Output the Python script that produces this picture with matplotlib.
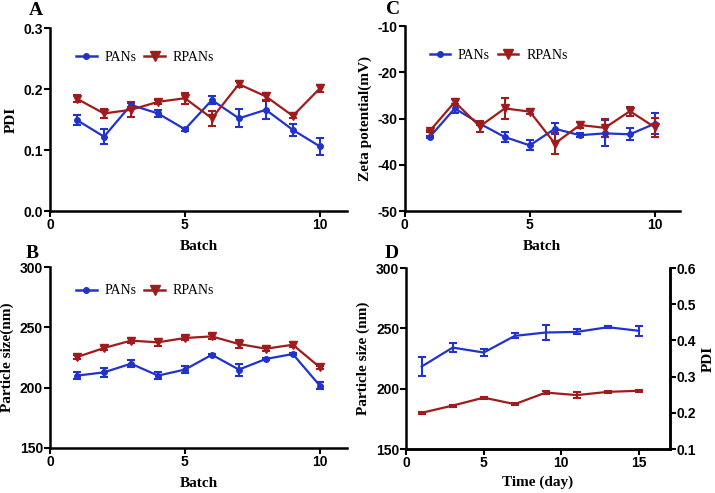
import matplotlib
matplotlib.use("Agg")
import matplotlib.pyplot as plt
from matplotlib.lines import Line2D

plt.rcParams["axes.unicode_minus"] = False

batch = [1, 2, 3, 4, 5, 6, 7, 8, 9, 10]

# Panel A: PDI
pdi_pan = [0.149, 0.122, 0.174, 0.160, 0.134, 0.182, 0.152, 0.166, 0.133, 0.106]
pdi_pan_err = [0.008, 0.012, 0.003, 0.005, 0.002, 0.006, 0.015, 0.015, 0.010, 0.014]
pdi_rpan = [0.184, 0.160, 0.166, 0.179, 0.185, 0.152, 0.208, 0.188, 0.156, 0.201]
pdi_rpan_err = [0.006, 0.008, 0.012, 0.003, 0.009, 0.012, 0.005, 0.006, 0.004, 0.005]

# Panel B: particle size
size_pan = [210.0, 212.7, 219.9, 210.0, 215.0, 227.3, 215.0, 223.8, 227.9, 201.7]
size_pan_err = [3, 4, 3, 3, 3, 1, 5, 1, 1, 3]
size_rpan = [225.4, 232.9, 239.0, 237.6, 241.2, 242.5, 236.2, 232.3, 235.6, 216.9]
size_rpan_err = [2, 2, 2, 3, 2, 2, 3, 2, 2, 1]

# Panel C: zeta potential
zeta_pan = [-34.0, -27.8, -31.1, -34.0, -35.8, -32.2, -33.6, -33.2, -33.4, -31.1]
zeta_pan_err = [0.3, 1.0, 0.4, 1.0, 1.1, 1.2, 0.4, 2.8, 1.3, 2.2]
zeta_rpan = [-32.7, -26.4, -31.7, -27.8, -28.5, -35.4, -31.4, -32.0, -28.4, -31.9]
zeta_rpan_err = [0.3, 0.6, 1.2, 2.3, 0.5, 2.2, 0.6, 2.0, 1.0, 2.0]

# Panel D: stability over time
days = [1, 3, 5, 7, 9, 11, 13, 15]
d_size = [218.4, 234.1, 230.0, 243.8, 246.6, 247.1, 251.0, 248.0]
d_size_err = [8, 4, 3, 2, 6, 2, 1, 4]
d_pdi = [0.200, 0.220, 0.242, 0.224, 0.256, 0.249, 0.258, 0.261]
d_pdi_err = [0.003, 0.003, 0.003, 0.003, 0.004, 0.008, 0.003, 0.003]

BLUE = "#2233cc"
RED = "#a01c1c"
TICKFONT = "Liberation Sans"
SERIF = "Liberation Serif"

fig = plt.figure(figsize=(7.15, 4.93), dpi=100)


def style(ax, right=False):
    ax.spines["top"].set_visible(False)
    if not right:
        ax.spines["right"].set_visible(False)
    for s in ax.spines.values():
        s.set_linewidth(1.8)
    ax.tick_params(direction="out", width=1.5, length=4, labelsize=10, pad=1)
    for lab in ax.get_xticklabels() + ax.get_yticklabels():
        lab.set_fontfamily(TICKFONT)
        lab.set_fontweight("bold")
    ax.patch.set_alpha(0)


def series(ax, x, y, e, color, marker, ms):
    ax.errorbar(x, y, yerr=e, color=color, marker=marker, ms=ms, lw=1.6,
                elinewidth=1.5, capsize=3, capthick=1.5)


def legend(ax, ytop):
    handles = [Line2D([], [], color=BLUE, marker="o", ms=4, lw=1.8),
               Line2D([], [], color=RED, marker="v", ms=7, lw=1.8)]
    ax.legend(handles, ["PANs", "RPANs"], loc="upper left",
              bbox_to_anchor=(0.07, ytop), ncol=2, frameon=False,
              prop={"family": SERIF, "size": 10}, handlelength=1.45,
              columnspacing=0.55, handletextpad=0.6, borderaxespad=0)


# Panel A
axA = fig.add_axes([0.070, 0.572, 0.415, 0.371])
series(axA, batch, pdi_pan, pdi_pan_err, BLUE, "o", 4)
series(axA, batch, pdi_rpan, pdi_rpan_err, RED, "v", 6)
axA.set_xlim(0, 11)
axA.set_ylim(0, 0.3)
axA.set_xticks([0, 5, 10])
axA.set_yticks([0.0, 0.1, 0.2, 0.3])
axA.set_yticklabels(["0.0", "0.1", "0.2", "0.3"])
axA.set_xlabel("Batch", family=SERIF, weight="bold", size=11, labelpad=6)
axA.set_ylabel("PDI", family=SERIF, weight="bold", size=11)
style(axA)
legend(axA, 0.905)

# Panel C
axC = fig.add_axes([0.566, 0.572, 0.385, 0.375])
series(axC, batch, zeta_pan, zeta_pan_err, BLUE, "o", 4)
series(axC, batch, zeta_rpan, zeta_rpan_err, RED, "v", 6)
axC.set_xlim(0, 11)
axC.set_ylim(-50, -10)
axC.set_xticks([0, 5, 10])
axC.set_yticks([-50, -40, -30, -20, -10])
axC.set_xlabel("Batch", family=SERIF, weight="bold", size=11, labelpad=6)
axC.set_ylabel("Zeta potential(mV)", family=SERIF, weight="bold", size=11)
style(axC)
legend(axC, 0.905)

# Panel B
axB = fig.add_axes([0.070, 0.0913, 0.415, 0.367])
series(axB, batch, size_pan, size_pan_err, BLUE, "o", 4)
series(axB, batch, size_rpan, size_rpan_err, RED, "v", 6)
axB.set_xlim(0, 11)
axB.set_ylim(150, 300)
axB.set_xticks([0, 5, 10])
axB.set_yticks([150, 200, 250, 300])
axB.set_xlabel("Batch", family=SERIF, weight="bold", size=11, labelpad=6)
axB.set_ylabel("Particle size(nm)", family=SERIF, weight="bold", size=11)
style(axB)
legend(axB, 0.935)

# Panel D
axD = fig.add_axes([0.568, 0.0892, 0.369, 0.367])
series(axD, days, d_size, d_size_err, BLUE, None, 0)
axD.set_xlim(0, 17)
axD.set_ylim(150, 300)
axD.set_xticks([0, 5, 10, 15])
axD.set_yticks([150, 200, 250, 300])
axD.set_xlabel("Time (day)", family=SERIF, weight="bold", size=11, labelpad=4)
axD.set_ylabel("Particle size (nm)", family=SERIF, weight="bold", size=11)
axD2 = axD.twinx()
series(axD2, days, d_pdi, d_pdi_err, RED, None, 0)
axD2.set_ylim(0.1, 0.6)
axD2.set_yticks([0.1, 0.2, 0.3, 0.4, 0.5, 0.6])
axD2.set_ylabel("PDI", family=SERIF, weight="bold", size=11)
style(axD, right=True)
style(axD2, right=True)
axD2.spines["left"].set_visible(False)

for letter, x, y in [("A", 0.040, 0.995), ("C", 0.540, 0.998),
                     ("B", 0.036, 0.503), ("D", 0.538, 0.503)]:
    fig.text(x, y, letter, family=SERIF, weight="bold", size=14, va="top")

fig.savefig("out.png", dpi=100)
